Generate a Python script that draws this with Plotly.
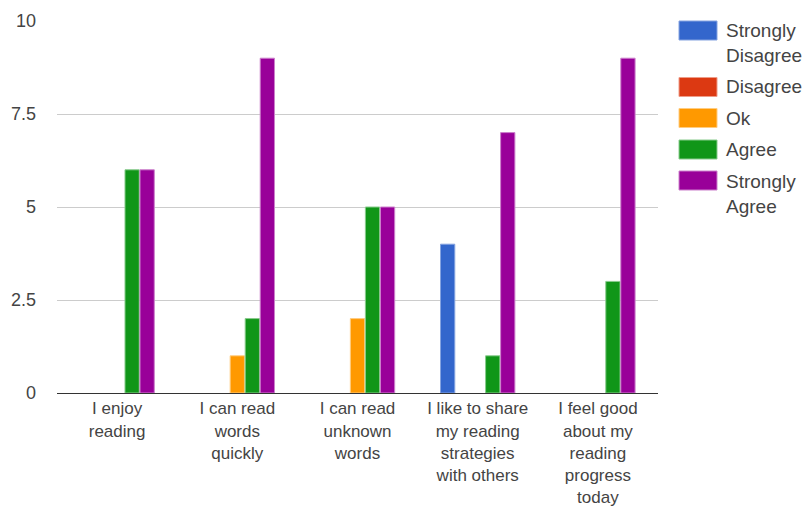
import plotly.graph_objects as go

# survey statements (x categories)
statements = [
    "I enjoy<br>reading",
    "I can read<br>words<br>quickly",
    "I can read<br>unknown<br>words",
    "I like to share<br>my reading<br>strategies<br>with others",
    "I feel good<br>about my<br>reading<br>progress<br>today",
]

# answer counts per response
strongly_disagree = [0, 0, 0, 4, 0]
disagree = [0, 0, 0, 0, 0]
ok = [0, 1, 2, 0, 0]
agree = [6, 2, 5, 1, 3]
strongly_agree = [6, 9, 5, 7, 9]

y_ticks = [0, 2.5, 5, 7.5, 10]
y_tick_labels = ["0", "2.5", "5", "7.5", "10"]

series = [
    ("Strongly<br>Disagree", strongly_disagree, "#3366cc", "#85a3e0"),
    ("Disagree", disagree, "#dc3912", "#ee9c88"),
    ("Ok", ok, "#ff9900", "#ffcc80"),
    ("Agree", agree, "#109618", "#88cb8c"),
    ("Strongly<br>Agree", strongly_agree, "#990099", "#cc80cc"),
]

# page body has an 8px margin, so the figure is a bit smaller than the window
W, H = 794, 498
L, T, PW, PH = 49, 13, 601, 372


def px(x):
    return (x - L) / PW


def py(y):
    return (T + PH - y) / PH


fig = go.Figure()
for name, vals, color, edge in series:
    # zero answers draw no bar at all
    fig.add_trace(go.Bar(
        x=statements,
        y=[v if v else None for v in vals],
        name=name,
        marker=dict(color=color, line=dict(color=edge, width=1)),
        showlegend=False,
    ))

# google-style legend: wide colour blocks with wrapped labels
legend_rows = [22.5, 79, 110, 141.5, 172.5]
for (name, vals, color, edge), yc in zip(series, legend_rows):
    fig.add_shape(
        type="rect", xref="paper", yref="paper",
        x0=px(671), x1=px(709), y0=py(yc + 9.5), y1=py(yc - 9.5),
        fillcolor=color, line=dict(color=edge, width=1),
    )
    lines = name.count("<br>") + 1
    fig.add_annotation(
        xref="paper", yref="paper", x=px(716), y=py(yc + 13 * (lines - 1)),
        text=name, showarrow=False, xanchor="left", yanchor="middle",
        align="left", font=dict(size=19, color="#444444"),
    )

fig.update_layout(
    width=W,
    height=H,
    barmode="group",
    bargap=0.375,
    bargroupgap=0.05,
    plot_bgcolor="white",
    paper_bgcolor="white",
    font=dict(family="Liberation Sans, Arial, sans-serif", size=17, color="#444444"),
    margin=dict(l=L, r=W - L - PW, t=T, b=H - T - PH, autoexpand=False),
    xaxis=dict(
        showline=True, linecolor="#333333", linewidth=1,
        ticks="", showgrid=False, fixedrange=True, automargin=False,
        tickfont=dict(size=17),
    ),
    yaxis=dict(
        range=[0, 10], tickvals=y_ticks, ticktext=y_tick_labels,
        showgrid=True, gridcolor="#cccccc", gridwidth=1,
        zeroline=False, ticks="", ticklabelstandoff=20, automargin=False,
        tickfont=dict(size=18),
    ),
)

fig.write_html("out.html")
